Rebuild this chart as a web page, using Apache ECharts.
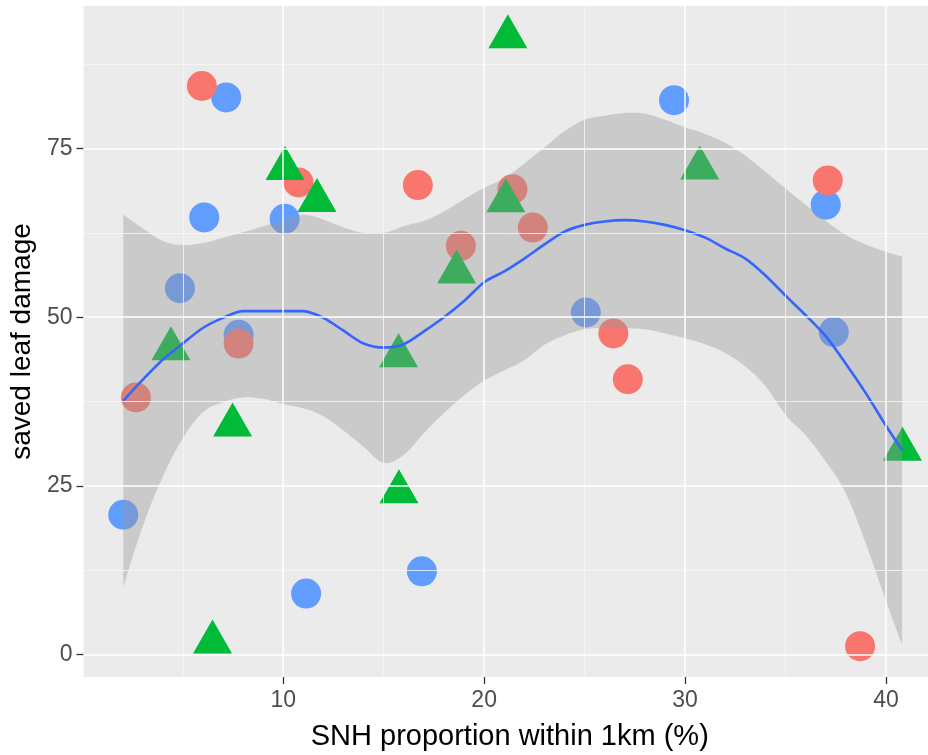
<!DOCTYPE html>
<html>
<head>
<meta charset="utf-8">
<script src="https://cdn.jsdelivr.net/npm/echarts@6/dist/echarts.min.js"></script>
<style>
  html, body { margin: 0; padding: 0; background: #ffffff; }
  #chart { width: 928px; height: 755px; }
</style>
</head>
<body>
<div id="chart"></div>
<script>
// Axis breaks
const xMajorTicks = [10, 20, 30, 40];
const xMinorTicks = [5, 15, 25, 35];
const yMajorTicks = [0, 25, 50, 75];
const yMinorTicks = [12.5, 37.5, 62.5, 87.5];

// Observations, one pair of arrays per group
const redX   = [5.95, 2.67, 10.76, 16.7, 18.84, 21.41, 22.42, 7.78, 26.43, 27.15, 37.1, 38.71];
const redY   = [84.3, 38.1, 70.0, 69.6, 60.6, 69.0, 63.3, 46.1, 47.6, 40.8, 70.3, 1.2];
const blueX  = [7.16, 6.07, 10.07, 4.86, 7.78, 2.04, 11.14, 16.9, 25.06, 29.45, 37.0, 37.4];
const blueY  = [82.6, 64.8, 64.6, 54.3, 47.4, 20.7, 9.0, 12.3, 50.7, 82.2, 66.7, 47.8];
const greenX = [6.48, 21.18, 10.09, 11.68, 21.08, 4.41, 7.48, 15.74, 18.63, 15.76, 30.73, 40.82];
const greenY = [1.8, 91.6, 72.05, 67.3, 67.25, 45.3, 34.0, 44.25, 56.7, 24.1, 72.1, 30.4];

// Loess fit with its confidence band
const fitX = [2.04, 3, 4, 5, 6, 7, 8, 9, 10, 11, 12, 13, 14, 15, 16, 17, 18, 19, 20, 21,
              22, 23, 24, 25, 26, 27, 28, 29, 30, 31, 32, 33, 34, 35, 36, 37, 38, 39, 40, 40.8];
const fitY = [37.6, 40.7, 43.7, 46.1, 48.4, 49.9, 50.9, 50.9, 50.9, 50.9, 49.9, 48.0, 46.1, 45.5, 46.0, 47.9, 50.0, 52.4, 55.2, 56.8,
              58.7, 60.8, 62.7, 63.7, 64.2, 64.4, 64.2, 63.7, 62.9, 61.8, 60.2, 58.7, 56.2, 53.2, 50.3, 47.2, 43.1, 38.7, 33.9, 30.3];
const fitLower = [10.0, 18.9, 26.3, 32.0, 35.9, 37.4, 38.1, 37.9, 37.1, 36.5, 35.3, 33.2, 30.8, 28.4, 29.6, 32.8, 35.8, 38.4, 40.6, 42.1,
                  43.6, 45.9, 47.3, 48.2, 48.4, 48.4, 48.2, 47.6, 46.9, 46.0, 44.7, 42.7, 39.8, 35.5, 32.5, 28.6, 23.9, 16.4, 7.9, 1.4];
const fitUpper = [65.2, 63.2, 61.3, 60.7, 61.0, 61.8, 62.6, 63.5, 64.3, 65.2, 64.5, 63.3, 62.5, 62.5, 63.5, 64.3, 65.7, 67.5, 69.2, 70.6,
                  72.8, 75.2, 77.6, 79.3, 79.9, 80.3, 80.2, 79.3, 78.2, 77.2, 75.9, 74.0, 71.6, 69.1, 66.7, 64.3, 62.2, 60.8, 59.7, 59.0];

const pairs = (xs, ys) => xs.map((x, i) => [x, ys[i]]);

const minorStyle = { color: '#F7F7F7', width: 0.8, type: 'solid' };
const majorStyle = { color: '#FFFFFF', width: 1.5, type: 'solid' };
const gridLines = [].concat(
  xMinorTicks.map(v => ({ xAxis: v, lineStyle: minorStyle })),
  yMinorTicks.map(v => ({ yAxis: v, lineStyle: minorStyle })),
  xMajorTicks.map(v => ({ xAxis: v, lineStyle: majorStyle })),
  yMajorTicks.map(v => ({ yAxis: v, lineStyle: majorStyle }))
);

// Cardinal-spline segments through the edge points (same look as a smoothed line)
function splineSegments(pts) {
  let d = '';
  const t = 0.18;
  for (let i = 0; i < pts.length - 1; i++) {
    const p0 = pts[Math.max(0, i - 1)], p1 = pts[i], p2 = pts[i + 1], p3 = pts[Math.min(pts.length - 1, i + 2)];
    const c1x = p1[0] + (p2[0] - p0[0]) * t, c1y = p1[1] + (p2[1] - p0[1]) * t;
    const c2x = p2[0] - (p3[0] - p1[0]) * t, c2y = p2[1] - (p3[1] - p1[1]) * t;
    d += ' C' + c1x.toFixed(2) + ',' + c1y.toFixed(2) + ' ' + c2x.toFixed(2) + ',' + c2y.toFixed(2) +
         ' ' + p2[0].toFixed(2) + ',' + p2[1].toFixed(2);
  }
  return d;
}

// Confidence ribbon: smoothed upper edge, straight right end, smoothed lower edge back
function renderBand(params, api) {
  if (params.dataIndex !== 0) return;
  const upper = fitX.map((x, i) => api.coord([x, fitUpper[i]]));
  const lowerRev = fitX.map((x, i) => api.coord([x, fitLower[i]])).reverse();
  const pathData = 'M' + upper[0][0].toFixed(2) + ',' + upper[0][1].toFixed(2) +
    splineSegments(upper) +
    ' L' + lowerRev[0][0].toFixed(2) + ',' + lowerRev[0][1].toFixed(2) +
    splineSegments(lowerRev) + ' Z';
  return {
    type: 'path',
    shape: { pathData: pathData },
    style: { fill: 'rgba(153,153,153,0.4)', stroke: null }
  };
}

const labelFont = 'Liberation Sans, Arial, sans-serif';
const chart = echarts.init(document.getElementById('chart'), null, { renderer: 'canvas' });

chart.setOption({
  animation: false,
  backgroundColor: '#ffffff',
  grid: {
    left: 83.5, right: 0, top: 6, bottom: 78,
    outerBoundsMode: 'none', containLabel: false,
    show: true, backgroundColor: '#EBEBEB', borderWidth: 0
  },
  xAxis: {
    type: 'value', min: 0.06, max: 42.09,
    axisLine: { show: false, onZero: false },
    splitLine: { show: false },
    axisTick: { show: true, customValues: xMajorTicks, length: 7, lineStyle: { color: '#333333', width: 1.3 } },
    axisLabel: { customValues: xMajorTicks, fontSize: 23, color: '#4D4D4D', fontFamily: labelFont, margin: 12 },
    name: 'SNH proportion within 1km (%)',
    nameLocation: 'middle', nameGap: 45,
    nameTextStyle: { fontSize: 29, color: '#000000', fontFamily: labelFont, padding: [0, 0, 0, 8] }
  },
  yAxis: {
    type: 'value', min: -3.37, max: 96.17,
    axisLine: { show: false, onZero: false },
    splitLine: { show: false },
    axisTick: { show: true, customValues: yMajorTicks, length: 7, lineStyle: { color: '#333333', width: 1.3 } },
    axisLabel: { customValues: yMajorTicks, fontSize: 23, color: '#4D4D4D', fontFamily: labelFont, margin: 11 },
    name: 'saved leaf damage',
    nameLocation: 'middle', nameRotate: 90, nameGap: 46,
    nameTextStyle: { fontSize: 28, color: '#000000', fontFamily: labelFont }
  },
  series: [
    {
      name: 'grid', type: 'line', data: [], silent: true, z: 0,
      markLine: { silent: true, symbol: 'none', label: { show: false }, animation: false, data: gridLines }
    },
    {
      name: 'blue', type: 'scatter', data: pairs(blueX, blueY), z: 2,
      symbol: 'circle', symbolSize: 30, itemStyle: { color: '#619CFF', opacity: 1 }
    },
    {
      name: 'red', type: 'scatter', data: pairs(redX, redY), z: 2,
      symbol: 'circle', symbolSize: 30, itemStyle: { color: '#F8766D', opacity: 1 }
    },
    {
      name: 'green', type: 'scatter', data: pairs(greenX, greenY), z: 2,
      symbol: 'triangle', symbolSize: [39, 34], symbolOffset: [0, -5.67],
      itemStyle: { color: '#00BA38', opacity: 1 }
    },
    {
      name: 'band', type: 'custom', z: 3, silent: true, clip: true,
      data: [[fitX[0], fitLower[0]]],
      renderItem: renderBand
    },
    {
      name: 'fit', type: 'line', data: pairs(fitX, fitY), z: 4, smooth: 0.3,
      symbol: 'none', silent: true, lineStyle: { color: '#3366FF', width: 2.6 }
    }
  ]
});
</script>
</body>
</html>
